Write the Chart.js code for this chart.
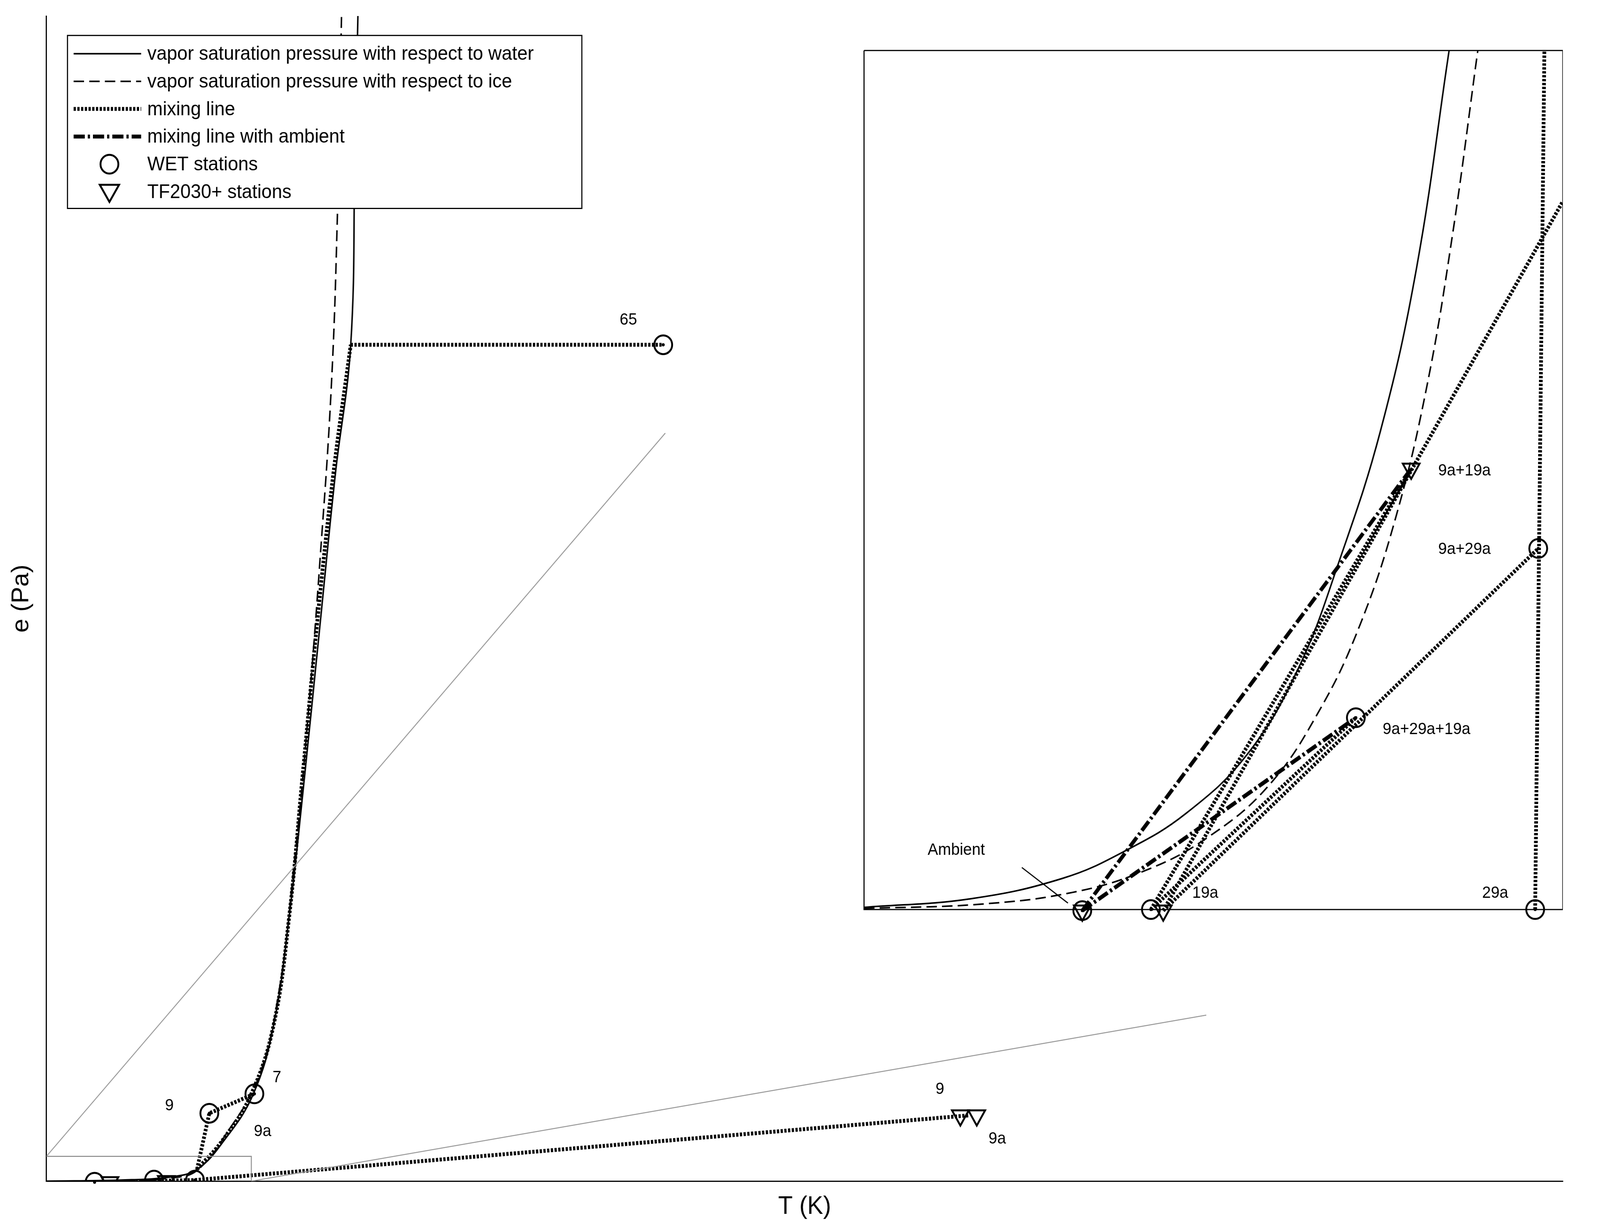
<!DOCTYPE html>
<html><head><meta charset="utf-8">
<script src="https://cdn.jsdelivr.net/npm/chart.js@4"></script>
<style>html,body{margin:0;padding:0;background:#fff;overflow:hidden}canvas{display:block}</style>
</head><body><canvas id="c" width="4303" height="3138" style="width:100vw;height:100vh"></canvas>
<script>
// All values in schematic units (reference pixel frame: x right, y down), converted below
const satWater = [[48,1096],[120,1095],[170,1092],[195,1085],[220,1060],[250,1015],[270,950],[285,850],[300,720],[315,580],[330,440],[345,320],[349,150],[352,15]];
const satIce   = [[48,1097],[120,1096],[170,1093],[195,1086],[225,1050],[255,1000],[275,920],[290,800],[302,680],[315,520],[326,360],[332,200],[336,15]];
const mixMain  = [[195,1085],[220,1058],[248,1015],[270,950],[285,850],[298,720],[312,580],[328,440],[345,320]];
const mixTop   = [[345,320],[650,320]];
const mix9     = [[195,1085],[207,1033],[251,1015]];
const mixBottom= [[193,1095],[948,1035]];
const mixLeft  = [[95,1097],[193,1095]];
const grayA    = [[48,1073],[652,402]];
const grayB    = [[248,1096],[1180,942]];
const smallBox = [[48,1073],[248,1073],[248,1096]];
const insetBox = [[846,47],[1528,47],[1528,844],[846,844],[846,47]];
const inWater  = [[846,842],[950,834],[1040,815],[1100,790],[1160,755],[1220,700],[1270,620],[1310,520],[1350,400],[1385,250],[1417,47]];
const inIce    = [[846,843],[960,839],[1050,828],[1120,808],[1180,778],[1240,730],[1290,660],[1330,580],[1365,480],[1395,360],[1420,220],[1445,47]];
const inMixA   = [[1501,844],[1510,47]];
const inMixB   = [[1138,845],[1528,187]];
const inMixC   = [[1126,844],[1380,435]];
const inMixD   = [[1138,845],[1504,509]];
const inMixE   = [[1126,844],[1326,666]];
const ambA     = [[1059,845],[1380,435]];
const ambB     = [[1059,845],[1326,666]];
const ambC     = [[1059,845],[1320,670]];
const pointer  = [[1000,805],[1045,838]];
const wetPts   = [[650,320],[251,1015],[207,1033],[95,1097],[153,1095],[193,1095],[1059,845],[1126,844],[1504,509],[1326,666],[1501,844]];
const tfPts    = [[110,1097],[165,1096],[940,1035],[956,1035],[1059,845],[1138,845],[1380,435]];
const labels   = [["65",616,297],["7",273,1000],["9",168,1026],["9a",259,1050],["9",920,1011],["9a",976,1057],["9a+19a",1432,437],["9a+29a",1432,510],["9a+29a+19a",1395,677],["19a",1179,829],["29a",1462,829],["Ambient",936,789]];
const legendItems = [["vapor saturation pressure with respect to water","solid"],["vapor saturation pressure with respect to ice","dash"],["mixing line","dot"],["mixing line with ambient","dashdot"],["WET stations","circle"],["TF2030+ stations","tri"]];

const conv = a => a.map(p=>({x:p[0]-48,y:1096-p[1]}));
const S = 2.75;
function line(d,opt){return Object.assign({data:conv(d),showLine:true,pointRadius:0,borderColor:'#000',borderWidth:4,fill:false,tension:0.4},opt);}
const DOT=[6,4], DD=[30,8,6,8];
const datasets=[
 line(grayA,{borderColor:'#999',borderWidth:2.5,tension:0}),
 line(grayB,{borderColor:'#999',borderWidth:2.5,tension:0}),
 line(smallBox,{borderColor:'#888',borderWidth:2.5,tension:0}),
 line(insetBox,{borderWidth:3,tension:0}),
 line(satWater,{}),line(satIce,{borderDash:[28,14]}),
 line(mixMain,{borderWidth:10,borderDash:DOT}),
 line(mixTop,{borderWidth:10,borderDash:DOT,tension:0}),
 line(mix9,{borderWidth:10,borderDash:DOT,tension:0}),
 line(mixBottom,{borderWidth:10,borderDash:DOT,tension:0}),
 line(mixLeft,{borderWidth:10,borderDash:DOT,tension:0}),
 line(inWater,{}),line(inIce,{borderDash:[28,14]}),
 line(inMixA,{borderWidth:10,borderDash:DOT,tension:0}),
 line(inMixB,{borderWidth:10,borderDash:DOT,tension:0}),
 line(inMixC,{borderWidth:10,borderDash:DOT,tension:0}),
 line(inMixD,{borderWidth:10,borderDash:DOT,tension:0}),
 line(inMixE,{borderWidth:10,borderDash:DOT,tension:0}),
 line(ambA,{borderWidth:10,borderDash:DD,tension:0}),
 line(ambB,{borderWidth:10,borderDash:DD,tension:0}),
 line(ambC,{borderWidth:10,borderDash:DD,tension:0}),
 line(pointer,{borderWidth:3,tension:0}),
 {data:conv(wetPts),showLine:false,pointStyle:'circle',pointRadius:24,borderColor:'#000',borderWidth:5,backgroundColor:'rgba(0,0,0,0)'},
 {data:conv(tfPts),showLine:false,pointStyle:'triangle',rotation:180,pointRadius:26,borderColor:'#000',borderWidth:5,backgroundColor:'rgba(0,0,0,0)'}
];
const deco={id:'deco',afterDatasetsDraw(ch){
 const c=ch.ctx,xs=ch.scales.x,ys=ch.scales.y;
 c.save();c.fillStyle='#000';c.font='42px "Liberation Sans", Arial';c.textBaseline='middle';c.textAlign='center';
 labels.forEach(l=>c.fillText(l[0],xs.getPixelForValue(l[1]-48),ys.getPixelForValue(1096-l[2])));
 wetPts.forEach(p=>{c.beginPath();c.arc(xs.getPixelForValue(p[0]-48),ys.getPixelForValue(1096-p[1]),4,0,7);c.fill();});
 const x0=66*S,y0=33*S,w=503*S,h=161*S;
 c.fillStyle='#fff';c.fillRect(x0,y0,w,h);c.strokeStyle='#000';c.lineWidth=3;c.setLineDash([]);c.strokeRect(x0,y0,w,h);
 c.font='50px "Liberation Sans", Arial';c.textAlign='left';c.fillStyle='#000';
 legendItems.forEach((it,i)=>{const y=y0+(17+i*25.7)*S,lx=x0+6*S,rx=x0+72*S;
  c.lineWidth=4;c.setLineDash([]);
  if(it[1]==='dash')c.setLineDash([28,14]);
  if(it[1]==='dot'){c.lineWidth=10;c.setLineDash(DOT);}
  if(it[1]==='dashdot'){c.lineWidth=10;c.setLineDash(DD);}
  if(it[1]==='circle'){c.beginPath();c.arc(x0+41*S,y,24,0,7);c.lineWidth=5;c.stroke();}
  else if(it[1]==='tri'){c.beginPath();c.moveTo(x0+41*S-26,y-18);c.lineTo(x0+41*S+26,y-18);c.lineTo(x0+41*S,y+26);c.closePath();c.lineWidth=5;c.stroke();}
  else{c.beginPath();c.moveTo(lx,y);c.lineTo(rx,y);c.stroke();}
  c.setLineDash([]);c.fillText(it[0],x0+78*S,y+2);});
 c.restore();}};
new Chart(document.getElementById('c'),{type:'scatter',data:{datasets},
 options:{responsive:false,devicePixelRatio:1,animation:false,
  layout:{padding:{left:10,top:41,right:100,bottom:0}},
  plugins:{legend:{display:false},tooltip:{enabled:false}},
  scales:{
   x:{min:0,max:1480,grid:{display:false},border:{color:'#000',width:3},ticks:{display:false},
      title:{display:true,text:'T (K)',font:{size:64,family:'"Liberation Sans", Arial'},color:'#000',padding:{top:20,bottom:10}}},
   y:{min:0,max:1081,grid:{display:false},border:{color:'#000',width:3},ticks:{display:false},
      title:{display:true,text:'e (Pa)',font:{size:64,family:'"Liberation Sans", Arial'},color:'#000',padding:{top:10,bottom:20}}}
  }},plugins:[deco]});
</script></body></html>
